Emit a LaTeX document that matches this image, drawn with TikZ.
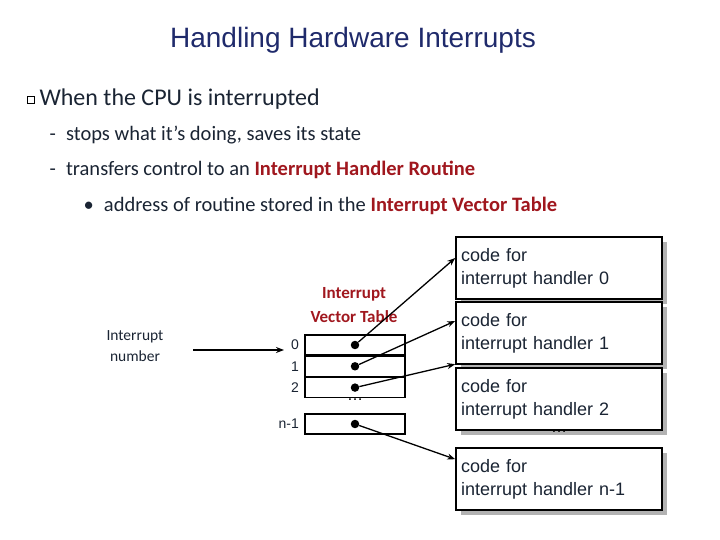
\documentclass[tikz,border=0pt]{standalone}
\usepackage{fontspec}
\setmainfont{Carlito}
\newfontfamily\arial{Liberation Sans}
\usetikzlibrary{positioning, arrows.meta, shadows}
\definecolor{titleBlue}{HTML}{1F2A6B}
\definecolor{textDark}{HTML}{1A2433}
\definecolor{keyRed}{HTML}{A0171E}
\tikzset{
  handler/.style={draw, line width=1.6pt, fill=white, minimum width=206pt, minimum height=62pt,
    align=left, text width=196pt, font=\arial\fontsize{18}{23}\selectfont, text=textDark,
    drop shadow={shadow xshift=5pt, shadow yshift=-5pt, fill=gray!60, opacity=1}},
  cell/.style={draw, line width=1.3pt, minimum width=100pt, minimum height=20pt, inner sep=0pt},
  idx/.style={font=\arial\fontsize{14}{16}\selectfont, text=textDark, anchor=east},
  ptr/.style={-{Stealth[length=8pt, width=6pt]}, line width=1.3pt},
  dot/.style={circle, fill, inner sep=3pt}
}
\begin{document}
\begin{tikzpicture}[x=1pt, y=-1pt]
  \useasboundingbox (0,0) rectangle (720,540);
  % title and bullets
  \node[font=\arial\fontsize{28}{32}\selectfont, text=titleBlue] (title) at (353,40) {Handling Hardware Interrupts};
  \node[draw, thin, minimum size=7pt, inner sep=0pt] (sq) at (31,100) {};
  \node[anchor=west, font=\fontsize{24}{28}\selectfont, text=textDark] (b1) at (36,99) {When the CPU is interrupted};
  \node[anchor=west, font=\fontsize{20.5}{24}\selectfont, text=textDark] (b2) at (46,135) {-\enspace stops what it’s doing, saves its state};
  \node[anchor=west, font=\fontsize{20.5}{24}\selectfont, text=textDark] (b3) at (46,170) {-\enspace transfers control to an \textbf{\color{keyRed}Interrupt Handler Routine}};
  \node[anchor=west, font=\fontsize{20.5}{24}\selectfont, text=textDark] (b4) at (80,206) {\textbullet\enspace address of routine stored in the \textbf{\color{keyRed}Interrupt Vector Table}};
  % handler boxes
  \node[handler] (h0) at (559,268) {code for\\interrupt handler 0};
  \node[handler] (h1) at (559,333) {code for\\interrupt handler 1};
  \node[handler] (h2) at (559,399) {code for\\interrupt handler 2};
  \node[handler] (hn) at (559,479) {code for\\interrupt handler n-1};
  \node[font=\arial\fontsize{16}{18}\selectfont] (hdots) at (559,432) {\dots};
  % vector table
  \node[cell] (c0) at (355,345) {};
  \node[cell, below=0pt of c0] (c1) {};
  \node[cell, below=0pt of c1] (c2) {};
  \node[cell] (cn) at (355,424) {};
  \node[font=\arial\fontsize{16}{18}\selectfont] (tdots) at (355,400) {\dots};
  \foreach \c/\t in {c0/0, c1/1, c2/2, cn/n-1} {
    \node[idx] (l\c) at ([xshift=-2pt]\c.west) {\t};
    \node[dot] (d\c) at (\c) {};
  }
  \node[font=\bfseries\fontsize{17}{24}\selectfont, text=keyRed, align=center] (ivt) at (354,305) {Interrupt\\Vector Table};
  \node[font=\fontsize{15.5}{21}\selectfont, text=textDark, align=center] (inum) at (135,346) {Interrupt\\number};
  % connectors
  \coordinate (inEnd) at (284,350);
  \coordinate (inStart) at (193,350);
  \draw[ptr, line width=2pt] (inStart) -- (inEnd);
  \draw[ptr] (dc0) -- ([yshift=10pt]h0.west);
  \draw[ptr] (dc1) -- ([yshift=12pt]h1.west);
  \draw[ptr] (dc2) -- ([yshift=3pt]h2.north west);
  \draw[ptr] (dcn) -- ([yshift=-12pt]hn.north west);
\end{tikzpicture}
\end{document}
